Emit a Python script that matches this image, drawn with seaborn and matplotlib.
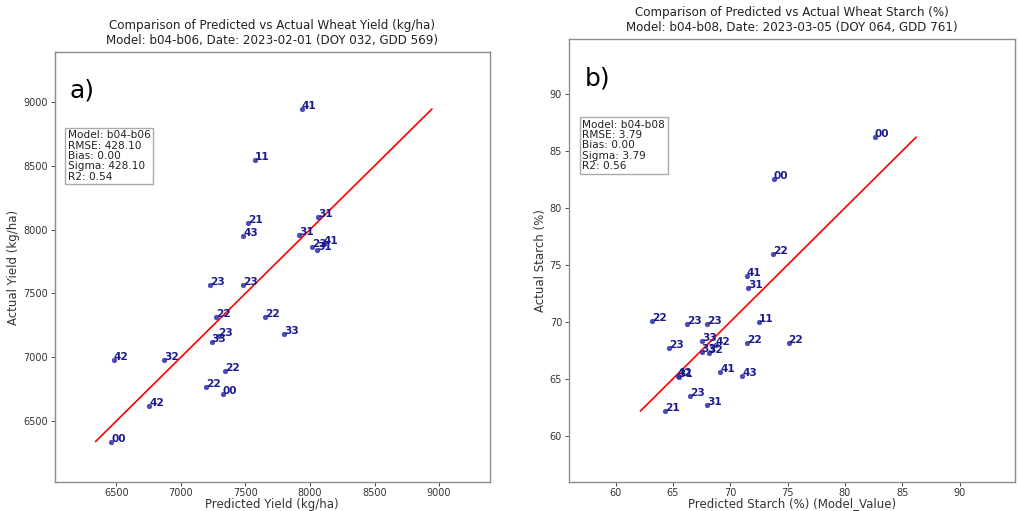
import matplotlib
matplotlib.use("Agg")
import matplotlib.pyplot as plt
import seaborn as sns
import pandas as pd

# ---- data: yield (left panel) ----
yield_labels = ['41', '11', '21', '43', '31', '31', '23', '41', '31', '23', '23', '22',
                '22', '33', '23', '33', '22', '22', '00', '42', '32', '42', '00']
yield_pred = [7935, 7575, 7520, 7482, 8061, 7917, 8016, 8105, 8053, 7223, 7481, 7272,
              7651, 7800, 7291, 7238, 7343, 7194, 7322, 6480, 6870, 6753, 6461]
yield_actual = [8945, 8547, 8049, 7953, 8096, 7959, 7862, 7883, 7841, 7563, 7563, 7315,
                7315, 7185, 7166, 7115, 6891, 6768, 6711, 6977, 6977, 6617, 6338]

# ---- data: starch (right panel) ----
starch_labels = ['00', '00', '22', '41', '31', '22', '23', '23', '11', '33', '42', '22',
                 '22', '23', '33', '32', '42', '31', '41', '43', '23', '31', '21']
starch_pred = [82.6, 73.8, 73.7, 71.45, 71.54, 63.2, 66.2, 67.95, 72.47, 67.57, 68.73, 71.45,
               75.08, 64.7, 67.5, 68.12, 65.4, 65.5, 69.14, 71.05, 66.47, 68.0, 64.35]
starch_actual = [86.2, 82.55, 75.97, 74.0, 73.0, 70.08, 69.8, 69.8, 69.99, 68.33, 68.0, 68.1,
                 68.1, 67.67, 67.37, 67.23, 65.27, 65.13, 65.57, 65.22, 63.5, 62.74, 62.16]

yield_stats = "Model: b04-b06\nRMSE: 428.10\nBias: 0.00\nSigma: 428.10\nR2: 0.54"
starch_stats = "Model: b04-b08\nRMSE: 3.79\nBias: 0.00\nSigma: 3.79\nR2: 0.56"

sns.set_style("white")
plt.rcParams['font.family'] = ['DejaVu Sans']

fig = plt.figure(figsize=(10.18, 5.11), dpi=100)
ax1 = fig.add_axes([0.0537, 0.0568, 0.4273, 0.8415])
ax2 = fig.add_axes([0.559, 0.0568, 0.438, 0.867])

POINT_C = '#2b2ba8'
TEXT_C = '#1a1a8f'


def panel(ax, pred, actual, labels, lo_f, hi_f, title, xlabel, ylabel, stats, tag, ticks):
    df = pd.DataFrame({'pred': pred, 'actual': actual, 'label': labels})
    sns.scatterplot(data=df, x='pred', y='actual', ax=ax, color=POINT_C, s=12,
                    edgecolor=POINT_C, linewidth=0.3, alpha=0.85, zorder=3)
    for _, r in df.iterrows():
        ax.text(r['pred'], r['actual'], r['label'], fontsize=7.6, fontweight='bold',
                color=TEXT_C, zorder=4)
    mn = min(df['pred'].min(), df['actual'].min())
    mx = max(df['pred'].max(), df['actual'].max())
    line = pd.DataFrame({'x': [mn, mx], 'y': [mn, mx]})
    sns.lineplot(data=line, x='x', y='y', ax=ax, color='red', linewidth=1.2, zorder=2)
    lo, hi = mn * lo_f, mx * hi_f
    ax.set_xlim(lo, hi)
    ax.set_ylim(lo, hi)
    ax.set_xticks(ticks)
    ax.set_yticks(ticks)
    ax.set_title(title, fontsize=8.6, color='#222222', pad=5.5)
    ax.set_xlabel(xlabel, fontsize=8.5, color='#333333', labelpad=-0.5)
    ax.set_ylabel(ylabel, fontsize=8.5, color='#333333', labelpad=2)
    ax.tick_params(axis='both', labelsize=7, colors='#333333', length=3, width=0.6,
                   left=True, bottom=True, pad=2)
    ax.tick_params(axis='x', pad=1.5)
    for s in ax.spines.values():
        s.set_color('#8c8c8c')
        s.set_linewidth(1.0)
    ax.text(0.03, 0.818, stats, transform=ax.transAxes, fontsize=7.6, va='top',
            ha='left', color='#222222', linespacing=1.05,
            bbox=dict(boxstyle='square,pad=0.25', facecolor='white', edgecolor='#aaaaaa'))
    ax.text(0.035, 0.91, tag, transform=ax.transAxes, fontsize=18, va='center',
            ha='left', color='black')


panel(ax1, yield_pred, yield_actual, yield_labels, 0.95, 1.05,
      "Comparison of Predicted vs Actual Wheat Yield (kg/ha)\n"
      "Model: b04-b06, Date: 2023-02-01 (DOY 032, GDD 569)",
      "Predicted Yield (kg/ha)", "Actual Yield (kg/ha)", yield_stats, "a)",
      [6500, 7000, 7500, 8000, 8500, 9000])
panel(ax2, starch_pred, starch_actual, starch_labels, 0.9, 1.1,
      "Comparison of Predicted vs Actual Wheat Starch (%)\n"
      "Model: b04-b08, Date: 2023-03-05 (DOY 064, GDD 761)",
      "Predicted Starch (%) (Model_Value)", "Actual Starch (%)", starch_stats, "b)",
      [60, 65, 70, 75, 80, 85, 90])

fig.savefig("out.png", dpi=100)
